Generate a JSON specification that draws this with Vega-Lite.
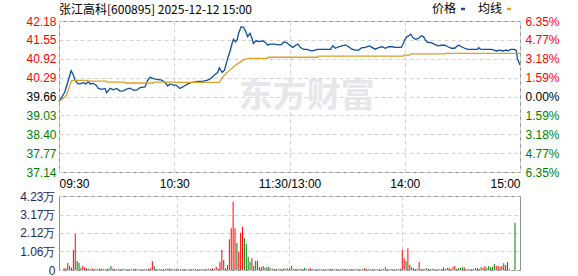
{
  "$schema": "https://vega.github.io/schema/vega-lite/v6.json",
  "padding": {"left": 19, "top": 2, "right": 5, "bottom": 0},
  "background": "white",
  "spacing": 24,
  "bounds": "flush",
  "config": {
    "view": {"stroke": "#909090", "strokeWidth": 1},
    "font": "Liberation Sans",
    "axis": {"labelFont": "Liberation Sans", "labelFontSize": 12, "gridColor": "#d2d2d2", "gridDash": [4, 3], "gridWidth": 1, "domain": false, "ticks": false, "title": null},
    "legend": {"padding": 0}
  },
  "resolve": {"scale": {"color": "independent"}, "legend": {"color": "independent"}},
  "datasets": {
    "line": [
      {"m":0,"p":39.49,"s":"价格"},{"m":1.4,"p":39.63,"s":"价格"},{"m":3.1,"p":39.82,"s":"价格"},{"m":4.9,"p":40.21,"s":"价格"},{"m":6.3,"p":40.52,"s":"价格"},{"m":7.5,"p":40.38,"s":"价格"},{"m":8.3,"p":40.21,"s":"价格"},{"m":9.6,"p":40.10,"s":"价格"},{"m":10.9,"p":40.08,"s":"价格"},{"m":12.7,"p":40.12,"s":"价格"},{"m":13.9,"p":40.08,"s":"价格"},{"m":15.3,"p":40.16,"s":"价格"},{"m":16.2,"p":40.08,"s":"价格"},{"m":17.9,"p":40.10,"s":"价格"},{"m":19.3,"p":40.04,"s":"价格"},{"m":20.5,"p":39.93,"s":"价格"},{"m":22.2,"p":39.90,"s":"价格"},{"m":24.0,"p":39.93,"s":"价格"},{"m":24.8,"p":39.79,"s":"价格"},{"m":26.6,"p":39.93,"s":"价格"},{"m":28.3,"p":39.88,"s":"价格"},{"m":30.0,"p":39.93,"s":"价格"},{"m":31.8,"p":39.84,"s":"价格"},{"m":33.5,"p":39.85,"s":"价格"},{"m":35.2,"p":39.91,"s":"价格"},{"m":37.0,"p":39.94,"s":"价格"},{"m":38.7,"p":39.87,"s":"价格"},{"m":40.4,"p":39.87,"s":"价格"},{"m":42.2,"p":39.96,"s":"价格"},{"m":44.8,"p":39.98,"s":"价格"},{"m":46.0,"p":40.18,"s":"价格"},{"m":47.4,"p":40.30,"s":"价格"},{"m":49.1,"p":40.26,"s":"价格"},{"m":50.9,"p":40.23,"s":"价格"},{"m":53.5,"p":40.21,"s":"价格"},{"m":55.2,"p":40.13,"s":"价格"},{"m":56.6,"p":40.01,"s":"价格"},{"m":57.8,"p":40.08,"s":"价格"},{"m":59.5,"p":40.04,"s":"价格"},{"m":60.9,"p":40.04,"s":"价格"},{"m":63.0,"p":39.93,"s":"价格"},{"m":65.3,"p":40.01,"s":"价格"},{"m":67.0,"p":40.08,"s":"价格"},{"m":68.7,"p":40.12,"s":"价格"},{"m":70.5,"p":40.14,"s":"价格"},{"m":72.2,"p":40.16,"s":"价格"},{"m":73.9,"p":40.16,"s":"价格"},{"m":75.7,"p":40.18,"s":"价格"},{"m":77.4,"p":40.21,"s":"价格"},{"m":79.1,"p":40.26,"s":"价格"},{"m":80.9,"p":40.38,"s":"价格"},{"m":82.6,"p":40.46,"s":"价格"},{"m":83.5,"p":40.62,"s":"价格"},{"m":84.9,"p":40.46,"s":"价格"},{"m":86.1,"p":40.54,"s":"价格"},{"m":86.9,"p":40.71,"s":"价格"},{"m":87.8,"p":40.93,"s":"价格"},{"m":89.0,"p":41.16,"s":"价格"},{"m":90.1,"p":41.43,"s":"价格"},{"m":90.8,"p":41.57,"s":"价格"},{"m":91.8,"p":41.49,"s":"价格"},{"m":92.7,"p":41.55,"s":"价格"},{"m":93.5,"p":41.77,"s":"价格"},{"m":94.8,"p":41.99,"s":"价格"},{"m":96.0,"p":41.97,"s":"价格"},{"m":97.0,"p":41.86,"s":"价格"},{"m":98.2,"p":41.66,"s":"价格"},{"m":99.4,"p":41.77,"s":"价格"},{"m":100.5,"p":41.60,"s":"价格"},{"m":101.2,"p":41.43,"s":"价格"},{"m":102.6,"p":41.52,"s":"价格"},{"m":104.3,"p":41.49,"s":"价格"},{"m":106.0,"p":41.52,"s":"价格"},{"m":107.4,"p":41.46,"s":"价格"},{"m":108.6,"p":41.38,"s":"价格"},{"m":110.4,"p":41.41,"s":"价格"},{"m":112.1,"p":41.41,"s":"价格"},{"m":114.4,"p":41.38,"s":"价格"},{"m":115.6,"p":41.38,"s":"价格"},{"m":117.0,"p":41.48,"s":"价格"},{"m":118.5,"p":41.46,"s":"价格"},{"m":119.9,"p":41.38,"s":"价格"},{"m":121.7,"p":41.30,"s":"价格"},{"m":123.4,"p":41.38,"s":"价格"},{"m":124.4,"p":41.41,"s":"价格"},{"m":125.6,"p":41.30,"s":"价格"},{"m":127.4,"p":41.23,"s":"价格"},{"m":129.1,"p":41.23,"s":"价格"},{"m":130.9,"p":41.19,"s":"价格"},{"m":132.6,"p":41.19,"s":"价格"},{"m":134.3,"p":41.23,"s":"价格"},{"m":136.9,"p":41.23,"s":"价格"},{"m":139.5,"p":41.23,"s":"价格"},{"m":141.3,"p":41.23,"s":"价格"},{"m":142.6,"p":41.35,"s":"价格"},{"m":143.9,"p":41.27,"s":"价格"},{"m":145.6,"p":41.32,"s":"价格"},{"m":147.3,"p":41.35,"s":"价格"},{"m":149.1,"p":41.38,"s":"价格"},{"m":150.8,"p":41.32,"s":"价格"},{"m":152.5,"p":41.24,"s":"价格"},{"m":154.3,"p":41.21,"s":"价格"},{"m":156.0,"p":41.21,"s":"价格"},{"m":157.7,"p":41.29,"s":"价格"},{"m":159.1,"p":41.29,"s":"价格"},{"m":160.3,"p":41.32,"s":"价格"},{"m":161.6,"p":41.35,"s":"价格"},{"m":162.9,"p":41.30,"s":"价格"},{"m":164.7,"p":41.24,"s":"价格"},{"m":166.4,"p":41.29,"s":"价格"},{"m":168.2,"p":41.32,"s":"价格"},{"m":169.9,"p":41.27,"s":"价格"},{"m":171.6,"p":41.32,"s":"价格"},{"m":173.4,"p":41.32,"s":"价格"},{"m":175.1,"p":41.30,"s":"价格"},{"m":176.8,"p":41.30,"s":"价格"},{"m":178.2,"p":41.30,"s":"价格"},{"m":178.9,"p":41.38,"s":"价格"},{"m":180.0,"p":41.55,"s":"价格"},{"m":181.2,"p":41.66,"s":"价格"},{"m":182.0,"p":41.68,"s":"价格"},{"m":183.1,"p":41.74,"s":"价格"},{"m":184.3,"p":41.62,"s":"价格"},{"m":185.7,"p":41.57,"s":"价格"},{"m":187.2,"p":41.60,"s":"价格"},{"m":188.6,"p":41.69,"s":"价格"},{"m":189.7,"p":41.66,"s":"价格"},{"m":190.7,"p":41.55,"s":"价格"},{"m":191.8,"p":41.47,"s":"价格"},{"m":193.8,"p":41.46,"s":"价格"},{"m":195.6,"p":41.40,"s":"价格"},{"m":197.3,"p":41.35,"s":"价格"},{"m":199.0,"p":41.37,"s":"价格"},{"m":200.8,"p":41.37,"s":"价格"},{"m":202.5,"p":41.32,"s":"价格"},{"m":204.3,"p":41.27,"s":"价格"},{"m":206.0,"p":41.27,"s":"价格"},{"m":207.4,"p":41.35,"s":"价格"},{"m":208.2,"p":41.37,"s":"价格"},{"m":209.5,"p":41.32,"s":"价格"},{"m":211.2,"p":41.27,"s":"价格"},{"m":212.9,"p":41.23,"s":"价格"},{"m":214.7,"p":41.23,"s":"价格"},{"m":216.4,"p":41.23,"s":"价格"},{"m":217.8,"p":41.23,"s":"价格"},{"m":218.5,"p":41.29,"s":"价格"},{"m":219.5,"p":41.24,"s":"价格"},{"m":221.6,"p":41.23,"s":"价格"},{"m":225.1,"p":41.23,"s":"价格"},{"m":226.5,"p":41.21,"s":"价格"},{"m":227.7,"p":41.18,"s":"价格"},{"m":229.4,"p":41.21,"s":"价格"},{"m":231.1,"p":41.18,"s":"价格"},{"m":232.9,"p":41.21,"s":"价格"},{"m":233.7,"p":41.18,"s":"价格"},{"m":235.1,"p":41.23,"s":"价格"},{"m":237.2,"p":41.23,"s":"价格"},{"m":238.1,"p":41.19,"s":"价格"},{"m":238.6,"p":40.93,"s":"价格"},{"m":239.3,"p":40.82,"s":"价格"},{"m":240,"p":40.71,"s":"价格"},
      {"m":0,"p":39.49,"s":"均线"},{"m":2.3,"p":39.60,"s":"均线"},{"m":4.0,"p":39.71,"s":"均线"},{"m":5.4,"p":39.99,"s":"均线"},{"m":6.6,"p":40.20,"s":"均线"},{"m":14.8,"p":40.20,"s":"均线"},{"m":15,"p":40.17,"s":"均线"},{"m":24.8,"p":40.17,"s":"均线"},{"m":25,"p":40.14,"s":"均线"},{"m":34.4,"p":40.14,"s":"均线"},{"m":34.6,"p":40.11,"s":"均线"},{"m":49.1,"p":40.11,"s":"均线"},{"m":49.3,"p":40.14,"s":"均线"},{"m":60,"p":40.14,"s":"均线"},{"m":61,"p":40.13,"s":"均线"},{"m":83.5,"p":40.13,"s":"均线"},{"m":85.2,"p":40.30,"s":"均线"},{"m":86.9,"p":40.43,"s":"均线"},{"m":89.0,"p":40.54,"s":"均线"},{"m":91.3,"p":40.68,"s":"均线"},{"m":93.9,"p":40.79,"s":"均线"},{"m":96.5,"p":40.90,"s":"均线"},{"m":99.1,"p":40.93,"s":"均线"},{"m":108.6,"p":40.93,"s":"均线"},{"m":108.8,"p":40.97,"s":"均线"},{"m":134.8,"p":40.97,"s":"均线"},{"m":135,"p":41.01,"s":"均线"},{"m":179.4,"p":41.01,"s":"均线"},{"m":179.6,"p":41.04,"s":"均线"},{"m":182.6,"p":41.04,"s":"均线"},{"m":182.8,"p":41.08,"s":"均线"},{"m":201.1,"p":41.08,"s":"均线"},{"m":201.3,"p":41.10,"s":"均线"},{"m":240,"p":41.10,"s":"均线"}
    ],
    "vol": [
      {"m":0,"v":1000,"d":"u"},{"m":1,"v":970,"d":"d"},{"m":2,"v":4000,"d":"u"},{"m":3,"v":2290,"d":"u"},{"m":4,"v":1300,"d":"u"},{"m":5,"v":11430,"d":"u"},{"m":6,"v":20580,"d":"u"},{"m":7,"v":5140,"d":"d"},{"m":8,"v":4000,"d":"d"},{"m":9,"v":1300,"d":"d"},
      {"m":10,"v":2290,"d":"u"},{"m":11,"v":1300,"d":"u"},{"m":12,"v":970,"d":"u"},{"m":13,"v":700,"d":"d"},{"m":14,"v":600,"d":"d"},{"m":15,"v":900,"d":"u"},{"m":16,"v":600,"d":"d"},{"m":17,"v":700,"d":"u"},{"m":18,"v":500,"d":"d"},{"m":19,"v":800,"d":"d"},
      {"m":20,"v":700,"d":"d"},{"m":21,"v":600,"d":"d"},{"m":22,"v":500,"d":"u"},{"m":23,"v":700,"d":"d"},{"m":24,"v":900,"d":"d"},{"m":25,"v":2290,"d":"d"},{"m":26,"v":800,"d":"u"},{"m":27,"v":600,"d":"d"},{"m":28,"v":500,"d":"d"},{"m":29,"v":600,"d":"u"},
      {"m":30,"v":500,"d":"u"},{"m":31,"v":700,"d":"d"},{"m":32,"v":500,"d":"d"},{"m":33,"v":600,"d":"u"},{"m":34,"v":500,"d":"u"},{"m":35,"v":600,"d":"u"},{"m":36,"v":500,"d":"d"},{"m":37,"v":600,"d":"u"},{"m":38,"v":700,"d":"d"},{"m":39,"v":500,"d":"d"},
      {"m":40,"v":500,"d":"u"},{"m":41,"v":600,"d":"u"},{"m":42,"v":500,"d":"u"},{"m":43,"v":600,"d":"d"},{"m":44,"v":500,"d":"u"},{"m":45,"v":700,"d":"u"},{"m":46,"v":1000,"d":"u"},{"m":47,"v":5140,"d":"u"},{"m":48,"v":2290,"d":"d"},{"m":49,"v":600,"d":"d"},
      {"m":50,"v":500,"d":"d"},{"m":51,"v":600,"d":"u"},{"m":52,"v":500,"d":"d"},{"m":53,"v":500,"d":"d"},{"m":54,"v":600,"d":"d"},{"m":55,"v":700,"d":"d"},{"m":56,"v":800,"d":"d"},{"m":57,"v":600,"d":"u"},{"m":58,"v":500,"d":"d"},{"m":59,"v":500,"d":"d"},
      {"m":60,"v":600,"d":"u"},{"m":61,"v":500,"d":"d"},{"m":62,"v":600,"d":"d"},{"m":63,"v":500,"d":"d"},{"m":64,"v":600,"d":"u"},{"m":65,"v":500,"d":"u"},{"m":66,"v":500,"d":"u"},{"m":67,"v":600,"d":"u"},{"m":68,"v":500,"d":"u"},{"m":69,"v":500,"d":"u"},
      {"m":70,"v":600,"d":"u"},{"m":71,"v":500,"d":"u"},{"m":72,"v":500,"d":"d"},{"m":73,"v":600,"d":"u"},{"m":74,"v":500,"d":"u"},{"m":75,"v":500,"d":"u"},{"m":76,"v":600,"d":"u"},{"m":77,"v":700,"d":"u"},{"m":78,"v":600,"d":"u"},{"m":79,"v":970,"d":"u"},
      {"m":80,"v":700,"d":"u"},{"m":81,"v":1900,"d":"u"},{"m":82,"v":900,"d":"u"},{"m":83,"v":4760,"d":"u"},{"m":84,"v":11430,"d":"u"},{"m":85,"v":5720,"d":"d"},{"m":86,"v":970,"d":"d"},{"m":87,"v":2860,"d":"u"},{"m":88,"v":17550,"d":"u"},{"m":89,"v":23800,"d":"u"},
      {"m":90,"v":39040,"d":"u"},{"m":91,"v":23800,"d":"u"},{"m":92,"v":15430,"d":"d"},{"m":93,"v":10480,"d":"u"},{"m":94,"v":21340,"d":"u"},{"m":95,"v":24770,"d":"u"},{"m":96,"v":18100,"d":"d"},{"m":97,"v":14860,"d":"d"},{"m":98,"v":7620,"d":"d"},{"m":99,"v":4760,"d":"d"},
      {"m":100,"v":6670,"d":"u"},{"m":101,"v":2290,"d":"d"},{"m":102,"v":5330,"d":"d"},{"m":103,"v":5330,"d":"u"},{"m":104,"v":1520,"d":"d"},{"m":105,"v":1520,"d":"d"},{"m":106,"v":2290,"d":"u"},{"m":107,"v":1300,"d":"d"},{"m":108,"v":1520,"d":"d"},{"m":109,"v":1900,"d":"d"},
      {"m":110,"v":800,"d":"u"},{"m":111,"v":700,"d":"d"},{"m":112,"v":600,"d":"d"},{"m":113,"v":700,"d":"d"},{"m":114,"v":600,"d":"u"},{"m":115,"v":700,"d":"d"},{"m":116,"v":600,"d":"u"},{"m":117,"v":1000,"d":"u"},{"m":118,"v":700,"d":"d"},{"m":119,"v":800,"d":"d"},
      {"m":120,"v":900,"d":"d"},{"m":121,"v":2290,"d":"d"},{"m":122,"v":700,"d":"u"},{"m":123,"v":600,"d":"u"},{"m":124,"v":700,"d":"u"},{"m":125,"v":600,"d":"d"},{"m":126,"v":700,"d":"d"},{"m":127,"v":600,"d":"d"},{"m":128,"v":1140,"d":"d"},{"m":129,"v":600,"d":"d"},
      {"m":130,"v":500,"d":"d"},{"m":131,"v":1140,"d":"u"},{"m":132,"v":600,"d":"u"},{"m":133,"v":500,"d":"u"},{"m":134,"v":600,"d":"u"},{"m":135,"v":500,"d":"d"},{"m":136,"v":500,"d":"u"},{"m":137,"v":600,"d":"u"},{"m":138,"v":500,"d":"d"},{"m":139,"v":500,"d":"u"},
      {"m":140,"v":500,"d":"u"},{"m":141,"v":600,"d":"u"},{"m":142,"v":700,"d":"u"},{"m":143,"v":600,"d":"d"},{"m":144,"v":500,"d":"u"},{"m":145,"v":600,"d":"u"},{"m":146,"v":500,"d":"u"},{"m":147,"v":500,"d":"u"},{"m":148,"v":600,"d":"u"},{"m":149,"v":500,"d":"d"},
      {"m":150,"v":600,"d":"d"},{"m":151,"v":500,"d":"d"},{"m":152,"v":600,"d":"d"},{"m":153,"v":500,"d":"d"},{"m":154,"v":600,"d":"d"},{"m":155,"v":500,"d":"u"},{"m":156,"v":500,"d":"u"},{"m":157,"v":600,"d":"u"},{"m":158,"v":500,"d":"u"},{"m":159,"v":600,"d":"u"},
      {"m":160,"v":1140,"d":"u"},{"m":161,"v":600,"d":"u"},{"m":162,"v":500,"d":"d"},{"m":163,"v":600,"d":"d"},{"m":164,"v":500,"d":"d"},{"m":165,"v":600,"d":"u"},{"m":166,"v":500,"d":"u"},{"m":167,"v":500,"d":"u"},{"m":168,"v":600,"d":"u"},{"m":169,"v":500,"d":"d"},
      {"m":170,"v":600,"d":"u"},{"m":171,"v":1520,"d":"u"},{"m":172,"v":600,"d":"d"},{"m":173,"v":500,"d":"u"},{"m":174,"v":600,"d":"d"},{"m":175,"v":500,"d":"d"},{"m":176,"v":500,"d":"d"},{"m":177,"v":600,"d":"u"},{"m":178,"v":500,"d":"d"},{"m":179,"v":700,"d":"u"},
      {"m":180,"v":11430,"d":"u"},{"m":181,"v":6670,"d":"u"},{"m":182,"v":5140,"d":"d"},{"m":183,"v":12380,"d":"u"},{"m":184,"v":2860,"d":"d"},{"m":185,"v":1520,"d":"d"},{"m":186,"v":970,"d":"u"},{"m":187,"v":600,"d":"d"},{"m":188,"v":700,"d":"u"},{"m":189,"v":4570,"d":"u"},
      {"m":190,"v":600,"d":"d"},{"m":191,"v":700,"d":"d"},{"m":192,"v":600,"d":"d"},{"m":193,"v":970,"d":"d"},{"m":194,"v":600,"d":"d"},{"m":195,"v":600,"d":"d"},{"m":196,"v":700,"d":"d"},{"m":197,"v":600,"d":"d"},{"m":198,"v":500,"d":"u"},{"m":199,"v":600,"d":"u"},
      {"m":200,"v":500,"d":"d"},{"m":201,"v":600,"d":"d"},{"m":202,"v":1520,"d":"d"},{"m":203,"v":600,"d":"d"},{"m":204,"v":1140,"d":"d"},{"m":205,"v":1140,"d":"u"},{"m":206,"v":600,"d":"u"},{"m":207,"v":1900,"d":"u"},{"m":208,"v":2290,"d":"u"},{"m":209,"v":700,"d":"d"},
      {"m":210,"v":970,"d":"d"},{"m":211,"v":1140,"d":"d"},{"m":212,"v":1520,"d":"d"},{"m":213,"v":1520,"d":"u"},{"m":214,"v":600,"d":"d"},{"m":215,"v":600,"d":"d"},{"m":216,"v":500,"d":"u"},{"m":217,"v":600,"d":"u"},{"m":218,"v":600,"d":"u"},{"m":219,"v":970,"d":"u"},
      {"m":220,"v":1140,"d":"d"},{"m":221,"v":600,"d":"d"},{"m":222,"v":1520,"d":"d"},{"m":223,"v":1300,"d":"u"},{"m":224,"v":2290,"d":"u"},{"m":225,"v":1300,"d":"d"},{"m":226,"v":2290,"d":"d"},{"m":227,"v":1520,"d":"d"},{"m":228,"v":1900,"d":"d"},{"m":229,"v":3430,"d":"d"},
      {"m":230,"v":2460,"d":"u"},{"m":231,"v":2290,"d":"u"},{"m":232,"v":1900,"d":"u"},{"m":233,"v":2290,"d":"u"},{"m":234,"v":3810,"d":"d"},{"m":235,"v":2860,"d":"u"},{"m":236,"v":4570,"d":"u"},{"m":237,"v":570,"d":"d"},{"m":238,"v":0,"d":"u"},{"m":239,"v":0,"d":"u"},
      {"m":240,"v":27040,"d":"d"}
    ]
  },
  "vconcat": [
    {
      "width": 461,
      "height": 151,
      "title": {"text": "张江高科[600895] 2025-12-12 15:00", "anchor": "start", "frame": "group", "font": "Noto Sans CJK SC", "fontSize": 12, "fontWeight": "normal", "color": "#000000", "offset": 5, "dy": 19},
      "layer": [
        {
          "data": {"values": [{"t": "东方财富"}]},
          "mark": {"type": "text", "font": "Noto Sans CJK SC", "fontSize": 34, "fontWeight": "bold", "color": "#e6e6eb", "baseline": "middle", "align": "center"},
          "encoding": {
            "text": {"field": "t", "type": "nominal"},
            "x": {"datum": 129, "type": "quantitative"},
            "y": {"datum": 0, "type": "quantitative", "scale": {"domain": [-6.35, 6.35], "nice": false, "zero": false},
              "axis": {"orient": "right", "grid": false, "values": [-6.35, -4.77, -3.18, -1.59, 0, 1.59, 3.18, 4.77, 6.35], "labelExpr": "format(abs(datum.value),'.2f') + '%'", "labelPadding": 5,
                "labelColor": {"condition": [{"test": "datum.value > 0.001", "value": "#ff0000"}, {"test": "datum.value < -0.001", "value": "#008000"}], "value": "#000000"}}}
          }
        },
        {
          "data": {"name": "line"},
          "mark": {"type": "line", "strokeWidth": 1.3},
          "encoding": {
            "x": {"field": "m", "type": "quantitative", "scale": {"domain": [0, 240], "nice": false, "zero": false},
              "axis": {"values": [0, 60, 120, 180, 240], "grid": true, "labelFlush": true, "labelPadding": 6, "labelColor": "#000000",
                "labelExpr": "datum.value == 0 ? '09:30' : datum.value == 60 ? '10:30' : datum.value == 120 ? '11:30/13:00' : datum.value == 180 ? '14:00' : '15:00'"}},
            "y": {"field": "p", "type": "quantitative", "scale": {"domain": [37.14, 42.18], "nice": false, "zero": false},
              "axis": {"orient": "left", "values": [37.14, 37.77, 38.40, 39.03, 39.66, 40.29, 40.92, 41.55, 42.18], "format": ".2f", "grid": true, "labelPadding": 3,
                "labelColor": {"condition": [{"test": "datum.value > 39.665", "value": "#ff0000"}, {"test": "datum.value < 39.655", "value": "#008000"}], "value": "#000000"}}},
            "color": {"field": "s", "type": "nominal", "scale": {"domain": ["价格", "均线"], "range": ["#0d4fa0", "#dca125"]},
              "legend": {"orient": "none", "legendX": 398, "legendY": -18, "direction": "horizontal", "title": null,
                "labelFont": "Noto Sans CJK SC", "labelFontSize": 12, "labelColor": "#000000",
                "symbolType": "M-1,0H1", "symbolSize": 16, "symbolStrokeWidth": 2.5,
                "labelAlign": "right", "labelOffset": -13, "columnPadding": 7}}
          }
        }
      ],
      "resolve": {"scale": {"y": "independent"}}
    },
    {
      "width": 461,
      "height": 74,
      "data": {"name": "vol"},
      "mark": {"type": "bar", "width": 1},
      "encoding": {
        "x": {"field": "m", "type": "quantitative", "scale": {"domain": [0, 240], "nice": false, "zero": false},
          "axis": {"values": [60, 120, 180], "labels": false, "grid": true}},
        "y": {"field": "v", "type": "quantitative", "scale": {"domain": [0, 42300], "nice": false},
          "axis": {"values": [0, 10600, 21200, 31700, 42300], "grid": true, "labelPadding": 4, "labelColor": "#1f2a5a",
            "labelBaseline": "alphabetic", "labelOffset": 4,
            "labelExpr": "datum.value == 0 ? '0' : format(datum.value / 10000, '.2f') + '万'"}},
        "color": {"field": "d", "type": "nominal", "scale": {"domain": ["u", "d"], "range": ["#ff0000", "#008000"]}, "legend": null}
      }
    }
  ]
}
